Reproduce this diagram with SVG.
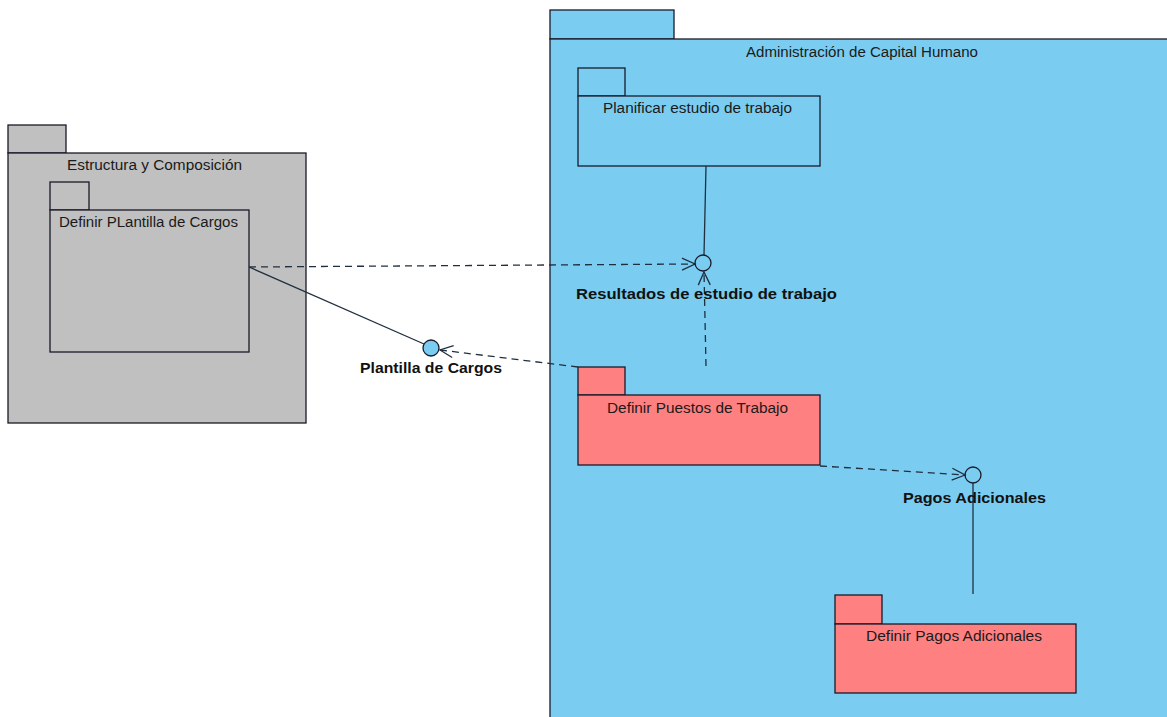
<svg xmlns="http://www.w3.org/2000/svg" width="1167" height="717" viewBox="0 0 1167 717">
<style>
.pk{stroke:#1a1a2a;stroke-width:1.3}
.grey{fill:#c0c0c0}
.blue{fill:#7acdf1}
.pink{fill:#ff8080}
.t{font-family:"Liberation Sans",Arial,sans-serif;font-size:14px;fill:#1a1a1a;text-anchor:middle}
.b{font-family:"Liberation Sans",Arial,sans-serif;font-size:15.5px;font-weight:bold;fill:#111;text-anchor:middle}
.dash{fill:none;stroke:#1f2f3f;stroke-width:1.3;stroke-dasharray:7,5}
.sol{fill:none;stroke:#1f2f3f;stroke-width:1.3}
.iface{stroke:#1a1a2a;stroke-width:1.3}
</style>
<defs>
<marker id="open" markerWidth="16" markerHeight="14" refX="14" refY="7" orient="auto" markerUnits="userSpaceOnUse">
<path d="M1,1 L14,7 L1,13" fill="none" stroke="#1f2f3f" stroke-width="1.3"/>
</marker>
</defs>
<rect width="1167" height="717" fill="#ffffff"/>
<g id="estructura">
<rect class="pk grey" x="8" y="125" width="58" height="28"/>
<rect class="pk grey" x="8" y="153" width="298" height="270"/>
<text class="t" x="154.5" y="170" textLength="175" lengthAdjust="spacingAndGlyphs">Estructura y Composición</text>
</g>
<g id="definir-plantilla">
<rect class="pk grey" x="50" y="182" width="39" height="28"/>
<rect class="pk grey" x="50" y="210" width="199" height="142"/>
<text class="t" x="148.5" y="227" textLength="179" lengthAdjust="spacingAndGlyphs">Definir PLantilla de Cargos</text>
</g>
<g id="admin">
<rect class="pk blue" x="550" y="10" width="124" height="29"/>
<rect class="pk blue" x="550" y="39" width="625" height="690"/>
<text class="t" x="862" y="57" textLength="232" lengthAdjust="spacingAndGlyphs">Administración de Capital Humano</text>
</g>
<g id="planificar">
<rect class="pk blue" x="578" y="68" width="47" height="28"/>
<rect class="pk blue" x="578" y="96" width="242" height="70"/>
<text class="t" x="697.5" y="113" textLength="189" lengthAdjust="spacingAndGlyphs">Planificar estudio de trabajo</text>
</g>
<g id="definir-puestos">
<rect class="pk pink" x="578" y="367" width="47" height="28"/>
<rect class="pk pink" x="578" y="395" width="242" height="70"/>
<text class="t" x="697.5" y="413" textLength="181" lengthAdjust="spacingAndGlyphs">Definir Puestos de Trabajo</text>
</g>
<g id="definir-pagos">
<rect class="pk pink" x="835" y="595" width="47" height="29"/>
<rect class="pk pink" x="835" y="624" width="241" height="69"/>
<text class="t" x="954" y="641" textLength="176" lengthAdjust="spacingAndGlyphs">Definir Pagos Adicionales</text>
</g>
<g id="connectors">
<line class="sol" x1="706" y1="166" x2="704" y2="255"/>
<line class="sol" x1="249" y1="267" x2="424" y2="344"/>
<line class="sol" x1="973" y1="483" x2="973" y2="594"/>
<line class="dash" x1="249" y1="267" x2="695" y2="264" marker-end="url(#open)"/>
<line class="dash" x1="706" y1="366" x2="704" y2="272" marker-end="url(#open)"/>
<line class="dash" x1="578" y1="367" x2="440" y2="350" marker-end="url(#open)"/>
<line class="dash" x1="820" y1="466" x2="965" y2="475" marker-end="url(#open)"/>
</g>
<g id="resultados">
<circle class="iface" cx="703" cy="263" r="8" fill="none"/>
<text class="b" x="706.5" y="299" textLength="261" lengthAdjust="spacingAndGlyphs">Resultados de estudio de trabajo</text>
</g>
<g id="plantilla-cargos">
<circle class="iface" cx="431" cy="348" r="8" fill="#7acdf1"/>
<text class="b" x="431" y="373" textLength="142" lengthAdjust="spacingAndGlyphs">Plantilla de Cargos</text>
</g>
<g id="pagos">
<circle class="iface" cx="973" cy="475" r="8" fill="none"/>
<text class="b" x="974.5" y="503" textLength="143" lengthAdjust="spacingAndGlyphs">Pagos Adicionales</text>
</g>
</svg>
